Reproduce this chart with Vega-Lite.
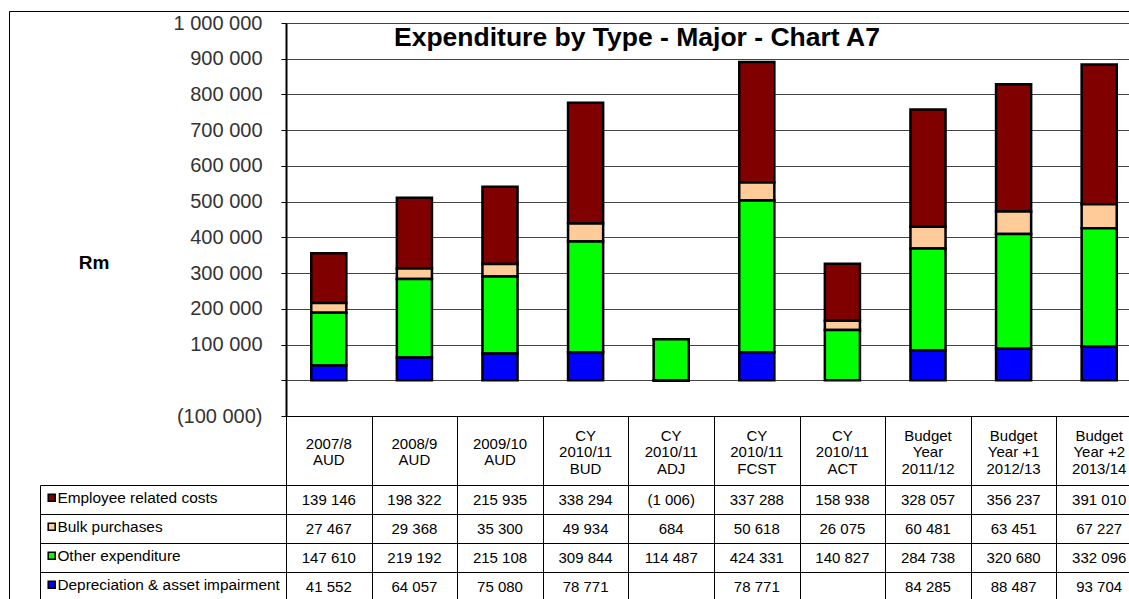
{
  "$schema": "https://vega.github.io/schema/vega-lite/v6.json",
  "width": 1120,
  "height": 588,
  "autosize": {"type": "none"},
  "padding": {"left": 9, "top": 11, "right": 0, "bottom": 0},
  "background": "white",
  "title": {
    "text": "Expenditure by Type - Major - Chart A7",
    "orient": "top",
    "anchor": "start",
    "frame": "group",
    "dx": 385,
    "offset": -53,
    "baseline": "middle",
    "font": "Liberation Sans",
    "fontSize": 26.5,
    "fontWeight": "bold",
    "color": "black"
  },
  "data": {
    "values": [
      {"period": "2007/8\nAUD", "type": "Employee related costs", "row": 1, "value": 139146},
      {"period": "2007/8\nAUD", "type": "Bulk purchases", "row": 2, "value": 27467},
      {"period": "2007/8\nAUD", "type": "Other expenditure", "row": 3, "value": 147610},
      {"period": "2007/8\nAUD", "type": "Depreciation & asset impairment", "row": 4, "value": 41552},
      {"period": "2008/9\nAUD", "type": "Employee related costs", "row": 1, "value": 198322},
      {"period": "2008/9\nAUD", "type": "Bulk purchases", "row": 2, "value": 29368},
      {"period": "2008/9\nAUD", "type": "Other expenditure", "row": 3, "value": 219192},
      {"period": "2008/9\nAUD", "type": "Depreciation & asset impairment", "row": 4, "value": 64057},
      {"period": "2009/10\nAUD", "type": "Employee related costs", "row": 1, "value": 215935},
      {"period": "2009/10\nAUD", "type": "Bulk purchases", "row": 2, "value": 35300},
      {"period": "2009/10\nAUD", "type": "Other expenditure", "row": 3, "value": 215108},
      {"period": "2009/10\nAUD", "type": "Depreciation & asset impairment", "row": 4, "value": 75080},
      {"period": "CY\n2010/11\nBUD", "type": "Employee related costs", "row": 1, "value": 338294},
      {"period": "CY\n2010/11\nBUD", "type": "Bulk purchases", "row": 2, "value": 49934},
      {"period": "CY\n2010/11\nBUD", "type": "Other expenditure", "row": 3, "value": 309844},
      {"period": "CY\n2010/11\nBUD", "type": "Depreciation & asset impairment", "row": 4, "value": 78771},
      {"period": "CY\n2010/11\nADJ", "type": "Employee related costs", "row": 1, "value": -1006},
      {"period": "CY\n2010/11\nADJ", "type": "Bulk purchases", "row": 2, "value": 684},
      {"period": "CY\n2010/11\nADJ", "type": "Other expenditure", "row": 3, "value": 114487},
      {"period": "CY\n2010/11\nFCST", "type": "Employee related costs", "row": 1, "value": 337288},
      {"period": "CY\n2010/11\nFCST", "type": "Bulk purchases", "row": 2, "value": 50618},
      {"period": "CY\n2010/11\nFCST", "type": "Other expenditure", "row": 3, "value": 424331},
      {"period": "CY\n2010/11\nFCST", "type": "Depreciation & asset impairment", "row": 4, "value": 78771},
      {"period": "CY\n2010/11\nACT", "type": "Employee related costs", "row": 1, "value": 158938},
      {"period": "CY\n2010/11\nACT", "type": "Bulk purchases", "row": 2, "value": 26075},
      {"period": "CY\n2010/11\nACT", "type": "Other expenditure", "row": 3, "value": 140827},
      {"period": "Budget\nYear\n2011/12", "type": "Employee related costs", "row": 1, "value": 328057},
      {"period": "Budget\nYear\n2011/12", "type": "Bulk purchases", "row": 2, "value": 60481},
      {"period": "Budget\nYear\n2011/12", "type": "Other expenditure", "row": 3, "value": 284738},
      {"period": "Budget\nYear\n2011/12", "type": "Depreciation & asset impairment", "row": 4, "value": 84285},
      {"period": "Budget\nYear +1\n2012/13", "type": "Employee related costs", "row": 1, "value": 356237},
      {"period": "Budget\nYear +1\n2012/13", "type": "Bulk purchases", "row": 2, "value": 63451},
      {"period": "Budget\nYear +1\n2012/13", "type": "Other expenditure", "row": 3, "value": 320680},
      {"period": "Budget\nYear +1\n2012/13", "type": "Depreciation & asset impairment", "row": 4, "value": 88487},
      {"period": "Budget\nYear +2\n2013/14", "type": "Employee related costs", "row": 1, "value": 391010},
      {"period": "Budget\nYear +2\n2013/14", "type": "Bulk purchases", "row": 2, "value": 67227},
      {"period": "Budget\nYear +2\n2013/14", "type": "Other expenditure", "row": 3, "value": 332096},
      {"period": "Budget\nYear +2\n2013/14", "type": "Depreciation & asset impairment", "row": 4, "value": 93704}
    ]
  },
  "layer": [
    {
      "mark": {"type": "bar", "stroke": "black", "strokeWidth": 2.5},
      "encoding": {
        "x": {
          "field": "period",
          "type": "nominal",
          "sort": null,
          "scale": {"range": [277, 1133], "paddingInner": 0.59, "paddingOuter": 0.295},
          "axis": {
            "orient": "bottom",
            "offset": -183,
            "title": null,
            "grid": false,
            "domain": true,
            "domainColor": "black",
            "domainWidth": 1,
            "ticks": true,
            "tickSize": 69,
            "tickOpacity": 0,
            "labelExpr": "split(datum.label, '\\n')",
            "labelFont": "Liberation Sans",
            "labelFontSize": 15,
            "labelColor": "black",
            "labelLineHeight": 16.5,
            "labelBaseline": {"condition": {"test": "length(split(datum.value, '\\n')) > 2", "value": "bottom"}, "value": "middle"},
            "labelPadding": -42,
            "labelAngle": 0,
            "labelOverlap": false,
            "labelLimit": 200
          }
        },
        "y": {
          "field": "value",
          "type": "quantitative",
          "stack": "zero",
          "scale": {"domain": [-100000, 1000000], "range": [405, 12], "nice": false, "zero": false},
          "axis": {
            "orient": "left",
            "offset": -277,
            "values": [-100000, 0, 100000, 200000, 300000, 400000, 500000, 600000, 700000, 800000, 900000, 1000000],
            "format": "(,d",
            "labelExpr": "datum.value === 0 ? '' : datum.label",
            "title": "Rm",
            "titleAngle": 0,
            "titleX": -192.5,
            "titleY": 251,
            "titleAlign": "center",
            "titleBaseline": "middle",
            "titleFont": "Liberation Sans",
            "titleFontSize": 19,
            "titleFontWeight": "bold",
            "titleColor": "black",
            "labelFont": "Liberation Sans",
            "labelFontSize": 20,
            "labelColor": "#333333",
            "labelPadding": 19,
            "labelOverlap": false,
            "tickSize": 5,
            "tickColor": "black",
            "domainColor": "black",
            "domainWidth": 2,
            "grid": true,
            "gridColor": "#444444",
            "gridOpacity": 1
          }
        },
        "color": {
          "field": "type",
          "type": "nominal",
          "scale": {
            "domain": ["Employee related costs", "Bulk purchases", "Other expenditure", "Depreciation & asset impairment"],
            "range": ["#800000", "#FFCC99", "#00FF00", "#0000FF"]
          },
          "legend": {
            "orient": "none",
            "legendX": 35,
            "legendY": 479,
            "title": null,
            "symbolType": "square",
            "symbolSize": 49,
            "symbolStrokeColor": "black",
            "symbolStrokeWidth": 1.5,
            "symbolOpacity": 1,
            "labelFont": "Liberation Sans",
            "labelFontSize": 15.4,
            "labelColor": "black",
            "labelOffset": -2,
            "labelLimit": 300,
            "rowPadding": 12,
            "padding": 0
          }
        },
        "order": {"field": "row", "sort": "descending"}
      }
    },
    {
      "mark": {"type": "text", "font": "Liberation Sans", "fontSize": 15, "color": "black", "baseline": "middle", "align": "center"},
      "encoding": {
        "x": {
          "field": "period",
          "type": "nominal",
          "sort": null,
          "scale": {"range": [277, 1133], "paddingInner": 0, "paddingOuter": 0},
          "axis": {
            "orient": "top",
            "offset": -405,
            "title": null,
            "labels": false,
            "ticks": true,
            "tickSize": -69,
            "tickColor": "black",
            "tickWidth": 1,
            "domain": false,
            "grid": true,
            "tickBand": "extent",
            "gridColor": "black",
            "gridOpacity": 1
          }
        },
        "y": {
          "field": "type",
          "type": "nominal",
          "sort": ["Employee related costs", "Bulk purchases", "Other expenditure", "Depreciation & asset impairment"],
          "scale": {"range": [474, 590], "paddingInner": 0, "paddingOuter": 0},
          "axis": {
            "orient": "left",
            "offset": -31,
            "title": null,
            "labels": false,
            "domain": true,
            "domainColor": "black",
            "ticks": true,
            "tickBand": "extent",
            "tickSize": -246,
            "tickColor": "black",
            "grid": true,
            "gridColor": "black",
            "gridOpacity": 1
          }
        },
        "text": {"field": "value", "type": "quantitative", "format": "(,d"}
      }
    }
  ],
  "resolve": {
    "scale": {"x": "independent", "y": "independent"},
    "axis": {"x": "independent", "y": "independent"}
  },
  "config": {
    "view": {"stroke": "black", "strokeWidth": 1, "strokeDash": [1120, 1708, 588, 0]},
    "locale": {"number": {"decimal": ".", "thousands": " ", "grouping": [3], "currency": ["", ""]}}
  }
}
